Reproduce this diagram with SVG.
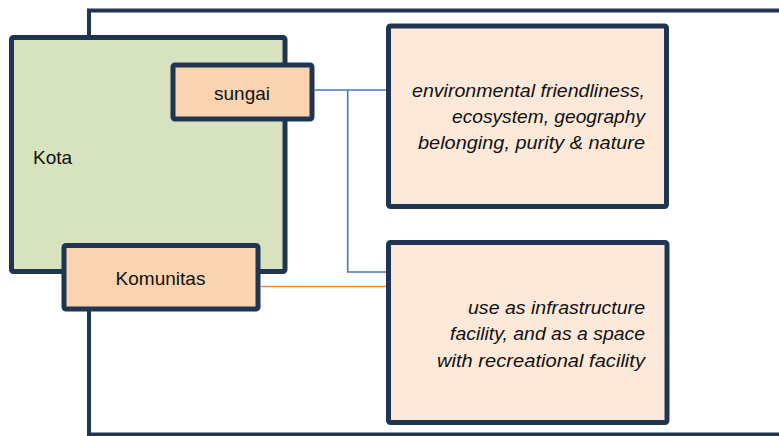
<svg xmlns="http://www.w3.org/2000/svg" width="779" height="436" viewBox="0 0 779 436">
  <style>
    .frame { fill: none; stroke: #1F3552; stroke-width: 4; }
    .box { stroke: #1F3552; stroke-width: 5; stroke-linejoin: round; }
    .green { fill: #D7E3BE; }
    .peach { fill: #FAD4B1; }
    .light { fill: #FDE9DA; }
    .lbl { font-family: "Liberation Sans", Arial, sans-serif; font-size: 19px; fill: #111111; }
    .note { font-family: "Liberation Sans", Arial, sans-serif; font-size: 19px; font-style: italic; fill: #111111; text-anchor: end; }
    .blue { fill: none; stroke: #4A76BE; stroke-width: 1.6; }
    .orange { fill: none; stroke: #F08A3C; stroke-width: 1.6; }
  </style>

  <!-- outer frame -->
  <rect class="frame" x="89" y="10.5" width="720" height="424"/>

  <g id="kota">
    <rect class="box green" x="11.5" y="37.5" width="273.5" height="234" rx="2"/>
    <text class="lbl" x="33" y="164">Kota</text>
  </g>

  <g id="sungai">
    <rect class="box peach" x="173" y="65" width="139" height="54" rx="2"/>
    <text class="lbl" x="242" y="100" text-anchor="middle">sungai</text>
  </g>

  <g id="komunitas">
    <rect class="box peach" x="64" y="245.5" width="194" height="63.5" rx="2"/>
    <text class="lbl" x="160.5" y="285" text-anchor="middle">Komunitas</text>
  </g>

  <g id="values-nature">
    <rect class="box light" x="388.5" y="26" width="278" height="180.5" rx="2"/>
    <text class="note" x="645" y="97" textLength="233" lengthAdjust="spacingAndGlyphs">environmental friendliness,</text>
    <text class="note" x="645" y="123" textLength="193" lengthAdjust="spacingAndGlyphs">ecosystem, geography</text>
    <text class="note" x="645" y="149" textLength="227" lengthAdjust="spacingAndGlyphs">belonging, purity &amp; nature</text>
  </g>

  <g id="values-use">
    <rect class="box light" x="388.5" y="242.5" width="278.5" height="180" rx="2"/>
    <text class="note" x="645" y="313.5" textLength="177" lengthAdjust="spacingAndGlyphs">use as infrastructure</text>
    <text class="note" x="645" y="340" textLength="195" lengthAdjust="spacingAndGlyphs">facility, and as a space</text>
    <text class="note" x="645" y="366.5" textLength="208" lengthAdjust="spacingAndGlyphs">with recreational facility</text>
  </g>

  <g id="connectors">
    <polyline class="blue" points="314.5,90 386,90"/>
    <polyline class="blue" points="347.7,90 347.7,272 386,272"/>
    <polyline class="orange" points="260.5,286.5 386,286.5"/>
  </g>
</svg>
